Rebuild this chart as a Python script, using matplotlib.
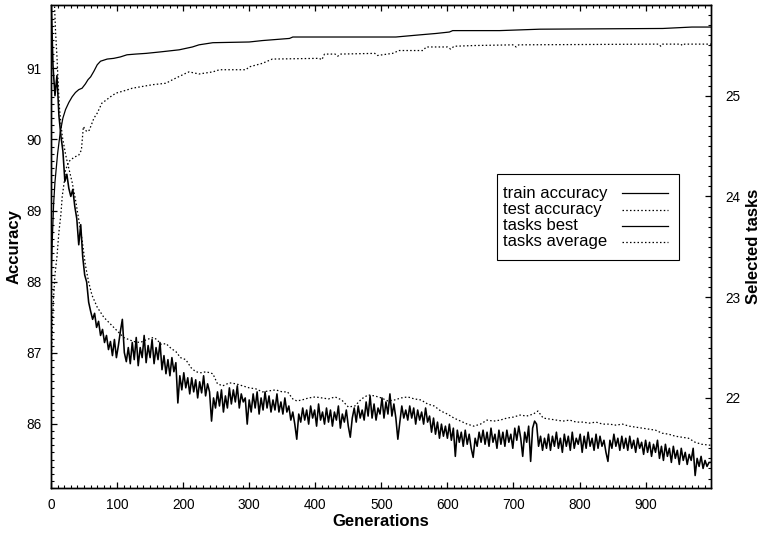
import numpy as np
import matplotlib
matplotlib.use("Agg")
import matplotlib.pyplot as plt
from matplotlib.ticker import MultipleLocator
from matplotlib.patches import Rectangle
from matplotlib.lines import Line2D

plt.rcParams["font.family"] = ["Liberation Sans", "DejaVu Sans"]

# ---- accuracy of the best individual (left axis) ----
train_gen = [0, 2, 4, 6, 8, 10, 14, 18, 22, 27, 32, 37, 42, 47, 52, 56, 60, 65, 70, 75,
             85, 95, 105, 115, 128, 144, 165, 194, 214, 224, 245, 300, 320, 361, 366, 522,
             558, 583, 603, 608, 679, 740, 926, 970, 999]
train_acc = [88.0, 88.6, 89.1, 89.4, 89.6, 89.8, 90.1, 90.3, 90.42, 90.52, 90.6, 90.66,
             90.7, 90.72, 90.78, 90.84, 90.88, 90.96, 91.05, 91.1, 91.13, 91.14, 91.16,
             91.19, 91.2, 91.21, 91.23, 91.26, 91.3, 91.33, 91.36, 91.37, 91.39, 91.42,
             91.44, 91.44, 91.47, 91.49, 91.51, 91.53, 91.53, 91.55, 91.56, 91.58, 91.58]

test_gen = [0, 1, 2, 4, 6, 9, 12, 15, 17, 20, 22, 27, 35, 42, 46, 49, 54, 58, 65, 70,
            77, 83, 90, 98, 113, 123, 154, 174, 184, 204, 209, 224, 245, 255, 295, 300,
            320, 335, 406, 410, 414, 430, 434, 438, 490, 494, 517, 527, 563, 568, 600,
            605, 610, 640, 700, 704, 708, 920, 923, 926, 953, 956, 959, 999]
test_acc = [86.55, 87.0, 87.4, 87.8, 88.1, 88.35, 88.7, 88.95, 89.2, 89.4, 89.57, 89.69,
            89.75, 89.78, 89.85, 90.18, 90.11, 90.13, 90.3, 90.37, 90.51, 90.55, 90.6,
            90.65, 90.69, 90.72, 90.77, 90.79, 90.84, 90.93, 90.95, 90.92, 90.95, 90.98,
            90.98, 91.02, 91.07, 91.13, 91.14, 91.12, 91.2, 91.2, 91.17, 91.2, 91.21,
            91.18, 91.21, 91.25, 91.25, 91.3, 91.3, 91.27, 91.31, 91.32, 91.33, 91.3,
            91.33, 91.34, 91.31, 91.34, 91.34, 91.32, 91.34, 91.34]

# ---- number of selected tasks (right axis), best sampled every 3 generations ----
best_gen = np.arange(0, 1000, 3)
best_tasks = [
    26.0, 25.3, 25.0, 25.2, 24.8, 24.6, 24.45, 24.15, 24.22, 24.08,
    24.0, 24.07, 23.9, 23.78, 23.52, 23.72, 23.4, 23.22, 23.15, 22.95,
    22.86, 22.78, 22.84, 22.7, 22.76, 22.62, 22.68, 22.55, 22.62, 22.48,
    22.56, 22.42, 22.58, 22.4, 22.52, 22.66, 22.78, 22.45, 22.36, 22.5,
    22.34, 22.55, 22.38, 22.6, 22.32, 22.5, 22.4, 22.62, 22.35, 22.52,
    22.4, 22.58, 22.34, 22.5, 22.38, 22.55, 22.28, 22.42, 22.24, 22.38,
    22.22, 22.4, 22.26, 22.35, 21.95, 22.22, 22.08, 22.25, 22.1, 22.2,
    22.04, 22.2, 22.06, 22.18, 22.0, 22.16, 22.05, 22.22, 22.02, 22.14,
    22.06, 21.77, 22.0, 21.9, 22.06, 21.92, 22.08, 21.86, 22.02, 21.9,
    22.1, 21.94, 22.08, 21.96, 22.12, 21.9, 22.04, 21.96, 22.0, 21.74,
    21.98, 21.86, 22.04, 21.9, 22.06, 21.84, 22.0, 21.88, 22.06, 21.9,
    22.02, 21.86, 21.98, 21.88, 22.04, 21.86, 21.96, 21.84, 22.0, 21.86,
    21.92, 21.78, 21.86, 21.74, 21.59, 21.84, 21.76, 21.9, 21.78, 21.88,
    21.74, 21.92, 21.8, 21.88, 21.72, 21.94, 21.78, 21.86, 21.74, 21.9,
    21.76, 21.88, 21.72, 21.86, 21.78, 21.92, 21.7, 21.84, 21.76, 21.88,
    21.72, 21.61, 21.8, 21.9, 21.76, 21.92, 21.8, 21.88, 21.78, 21.96,
    21.82, 22.02, 21.8, 21.94, 21.78, 21.9, 21.84, 22.0, 21.8, 21.96,
    21.84, 22.04, 21.82, 21.94, 21.8, 21.59, 21.76, 21.92, 21.8, 21.88,
    21.78, 21.92, 21.8, 21.9, 21.74, 21.88, 21.78, 21.86, 21.74, 21.9,
    21.76, 21.82, 21.66, 21.8, 21.64, 21.76, 21.6, 21.74, 21.62, 21.72,
    21.6, 21.74, 21.58, 21.7, 21.42, 21.68, 21.56, 21.66, 21.52, 21.68,
    21.54, 21.64, 21.5, 21.41, 21.6, 21.52, 21.66, 21.56, 21.68, 21.54,
    21.66, 21.52, 21.7, 21.56, 21.64, 21.5, 21.68, 21.54, 21.66, 21.52,
    21.68, 21.56, 21.64, 21.5, 21.7, 21.58, 21.72, 21.6, 21.42, 21.66,
    21.56, 21.72, 21.37, 21.7, 21.77, 21.74, 21.52, 21.62, 21.48, 21.6,
    21.5, 21.64, 21.48, 21.62, 21.52, 21.66, 21.5, 21.6, 21.46, 21.64,
    21.52, 21.62, 21.48, 21.66, 21.5, 21.6, 21.54, 21.64, 21.46, 21.62,
    21.5, 21.66, 21.52, 21.6, 21.48, 21.64, 21.5, 21.62, 21.52, 21.58,
    21.46, 21.37, 21.58, 21.5, 21.64, 21.52, 21.6, 21.48, 21.62, 21.5,
    21.6, 21.48, 21.62, 21.5, 21.58, 21.46, 21.6, 21.5, 21.56, 21.44,
    21.58, 21.46, 21.56, 21.42, 21.54, 21.46, 21.58, 21.4, 21.52, 21.38,
    21.54, 21.42, 21.5, 21.36, 21.52, 21.4, 21.48, 21.34, 21.5, 21.38,
    21.46, 21.34, 21.44, 21.38, 21.5, 21.23, 21.4, 21.32, 21.42, 21.3,
    21.38, 21.32, 21.36, 21.36,
]

avg_gen = [0, 3, 5, 7, 9, 11, 13, 17, 22, 24, 28, 32, 37, 42, 47, 52, 57, 62, 70, 80,
           95, 110, 125, 135, 145, 155, 160, 167, 174, 182, 189, 196, 204, 212, 219, 227,
           235, 245, 252, 260, 270, 280, 290, 300, 310, 320, 330, 340, 350, 358, 366, 372,
           380, 390, 400, 410, 420, 430, 440, 450, 460, 470, 480, 490, 500, 510, 520, 530,
           540, 550, 560, 570, 580, 590, 600, 610, 620, 630, 640, 650, 660, 670, 680, 690,
           700, 710, 720, 730, 737, 745, 755, 765, 775, 785, 795, 805, 815, 825, 835, 845,
           855, 865, 875, 885, 895, 905, 915, 925, 935, 945, 955, 965, 975, 985, 999]
avg_tasks = [26.8, 26.3, 25.95, 25.62, 25.39, 25.1, 24.86, 24.6, 24.42, 24.36, 24.25,
             24.14, 23.97, 23.77, 23.57, 23.32, 23.15, 23.02, 22.9, 22.8, 22.7, 22.6,
             22.56, 22.55, 22.58, 22.6, 22.58, 22.53, 22.54, 22.49, 22.46, 22.4, 22.38,
             22.3, 22.26, 22.25, 22.26, 22.24, 22.14, 22.12, 22.15, 22.14, 22.12, 22.1,
             22.09, 22.06, 22.07, 22.08, 22.06, 22.06, 21.99, 21.97, 21.98, 22.0, 22.01,
             22.0, 21.99, 22.01, 21.98, 21.91, 21.92, 21.99, 22.03, 22.02, 22.0, 21.97,
             21.98, 22.0, 22.01, 21.99, 21.98, 21.94, 21.92, 21.87, 21.84, 21.8, 21.77,
             21.74, 21.72, 21.74, 21.78, 21.77, 21.78, 21.8, 21.81, 21.83, 21.82, 21.84,
             21.87, 21.8, 21.79, 21.78, 21.77, 21.78, 21.76, 21.76, 21.75, 21.76, 21.74,
             21.74, 21.73, 21.74, 21.72, 21.71, 21.7, 21.69, 21.68, 21.65, 21.64, 21.62,
             21.61, 21.6, 21.56, 21.54, 21.53]

labels = ["train accuracy", "test accuracy", "tasks best", "tasks average"]

fig = plt.figure(figsize=(7.65, 5.35), dpi=100)
ax = fig.add_axes([51 / 765, 47 / 535, 660 / 765, 483 / 535])
ax2 = ax.twinx()

dot = (0, (1.2, 1.8))
styles = ["-", dot, "-", dot]
ax.plot(train_gen, train_acc, color="black", lw=0.9)
ax.plot(test_gen, test_acc, color="black", lw=0.9, linestyle=dot)
ax2.plot(best_gen, best_tasks, color="black", lw=1.15)
ax2.plot(avg_gen, avg_tasks, color="black", lw=0.9, linestyle=dot)

ax.set_xlim(0, 999)
ax.set_ylim(85.1, 91.89)
ax2.set_ylim(21.106, 25.9)

ax.xaxis.set_major_locator(MultipleLocator(100))
ax.xaxis.set_minor_locator(MultipleLocator(10))
ax.yaxis.set_major_locator(MultipleLocator(1))
ax.yaxis.set_minor_locator(MultipleLocator(0.1))
ax2.yaxis.set_major_locator(MultipleLocator(1))
ax2.yaxis.set_minor_locator(MultipleLocator(0.1))

for a in (ax, ax2):
    for s in a.spines.values():
        s.set_linewidth(1.0)
ax.tick_params(axis="x", which="both", direction="in", top=True, bottom=True)
ax.tick_params(axis="y", which="both", direction="in", left=True, right=False)
ax2.tick_params(axis="y", which="both", direction="in", right=True, left=False)
for a in (ax, ax2):
    a.tick_params(which="major", length=4.5, width=0.9, labelsize=9.8)
    a.tick_params(which="minor", length=2.2, width=0.8)
ax.tick_params(axis="x", pad=7)
ax.tick_params(axis="y", pad=7)
ax2.tick_params(axis="y", pad=10)

ax.set_xlabel("Generations", fontsize=12, fontweight="bold", labelpad=2)
ax.set_ylabel("Accuracy", fontsize=12, fontweight="bold", labelpad=3)
ax2.set_ylabel("Selected tasks", fontsize=12, fontweight="bold", labelpad=4)

# legend box: labels on the left, line samples on the right
x0, x1, y0, y1 = 0.6758, 0.9515, 0.4720, 0.6501
ax2.add_patch(Rectangle((x0, y0), x1 - x0, y1 - y0, transform=ax2.transAxes,
                        facecolor="white", edgecolor="black", lw=0.8, zorder=5))
row_y = [0.6100, 0.5756, 0.5431, 0.5099]
for lab, st, yy in zip(labels, styles, row_y):
    ax2.text(0.6848, yy, lab, transform=ax2.transAxes, fontsize=12,
             ha="left", va="center", zorder=6)
    ax2.add_line(Line2D([0.8647, 0.9348], [yy, yy], transform=ax2.transAxes,
                        color="black", lw=0.9, linestyle=st, zorder=6))

fig.savefig("out.png", dpi=100)
